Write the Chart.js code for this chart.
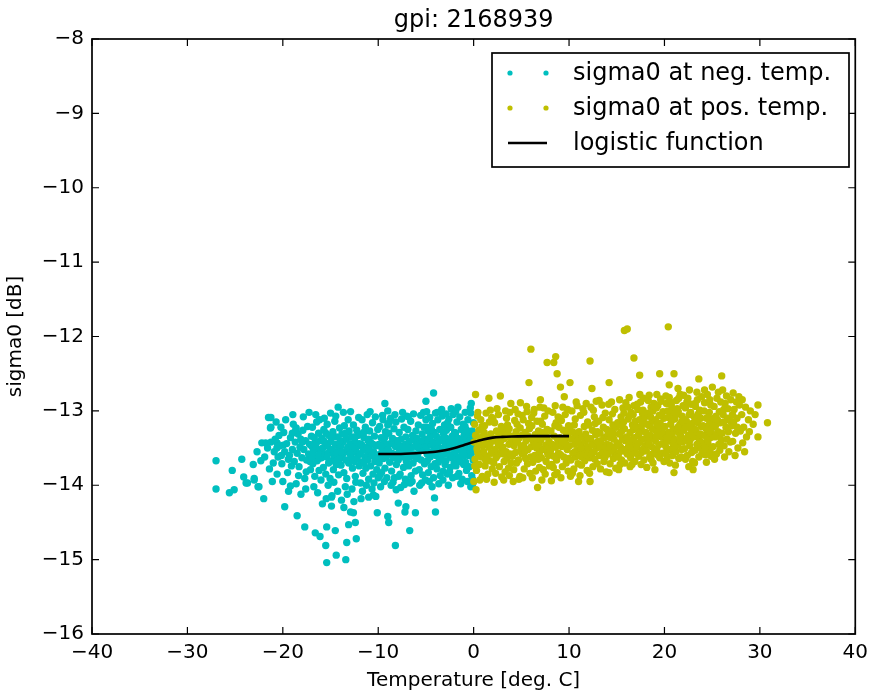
<!DOCTYPE html>
<html>
<head>
<meta charset="utf-8">
<script src="https://cdn.jsdelivr.net/npm/chart.js@4"></script>
<style>
  html, body { margin: 0; padding: 0; background: #fff; }
  #wrap { width: 875px; height: 694px; }
</style>
</head>
<body>
<div id="wrap"><canvas id="gpiChart" width="875" height="694"></canvas></div>
<script>
const chartTitle = 'gpi: 2168939';
const xTicks = [-40, -30, -20, -10, 0, 10, 20, 30, 40];
const yTicks = [-16, -15, -14, -13, -12, -11, -10, -9, -8];
const seriesNames = ['sigma0 at neg. temp.', 'sigma0 at pos. temp.', 'logistic function'];

// [temperature, sigma0] for negative temperatures
const negPoints = [
  [-27.0,-13.67],[-27.0,-14.05],[-25.3,-13.80],[-24.3,-13.65],[-25.6,-14.10],[-25.1,-14.06],[-24.1,-13.89],[-23.7,-13.97],
  [-23.0,-13.91],[-22.6,-14.02],[-22.3,-13.67],[-22.0,-14.18],[-21.5,-13.09],[-21.3,-13.23],[-22.2,-13.43],[-23.1,-13.72],
  [-22.7,-13.55],[-21.25,-13.09],[-21.25,-13.22],[-21.8,-13.43],[-21.25,-13.42],[-20.6,-13.43],[-18.6,-13.23],[-19.0,-13.30],
  [-19.2,-14.01],[-21.1,-13.95],[-22.5,-14.02],[-23.85,-13.97],[-23.0,-13.93],
  [-20.8,-13.38],[-20.5,-13.62],[-20.3,-13.47],[-20.1,-13.71],[-19.9,-13.29],[-19.8,-13.55],[-19.6,-13.44],[-19.5,-13.83],
  [-19.3,-13.60],[-19.2,-13.36],[-19.0,-13.52],[-18.9,-13.18],[-18.8,-13.68],[-18.7,-13.42],[-18.5,-13.57],[-18.4,-13.31],
  [-18.3,-13.75],[-18.2,-13.49],[-18.0,-13.63],[-17.9,-13.26],[-17.8,-13.52],[-17.7,-13.91],[-17.6,-13.40],[-17.5,-13.66],
  [-17.4,-13.21],[-17.3,-13.58],[-17.2,-13.45],[-17.1,-13.79],[-17.0,-13.34],[-20.6,-13.85],[-20.0,-13.95],[-19.4,-14.08],
  [-18.6,-13.98],[-18.1,-14.12],[-17.6,-14.05],[-20.9,-13.55],[-20.2,-13.22],[-19.7,-13.12],[-18.95,-13.05],[-17.85,-13.08],
  [-17.25,-13.02],[-20.4,-13.33],[-19.1,-13.74],[-18.35,-13.87],[-17.55,-13.82],[-21.0,-13.70],[-20.7,-13.15],[-19.95,-13.46],
  [-18.65,-13.26],[-17.95,-13.42],[-17.15,-13.68],[-21.6,-13.50],[-21.9,-13.62],[-21.4,-13.78],[-20.15,-13.60],
  [-18.12,-13.38],[-19.42,-13.65],[-20.62,-13.50],
  [-16.95,-13.48],[-16.9,-13.22],[-16.85,-13.71],[-16.8,-13.55],[-16.7,-13.36],[-16.65,-13.88],[-16.6,-13.61],[-16.5,-13.44],
  [-16.45,-13.15],[-16.4,-13.67],[-16.3,-13.52],[-16.25,-13.30],[-16.2,-13.80],[-16.1,-13.58],[-16.05,-13.40],[-16.0,-13.93],
  [-16.55,-13.05],[-16.15,-13.12],[-16.75,-14.02],[-16.35,-14.10],[-16.78,-13.45],[-16.22,-13.64],[-16.98,-13.62],
  [-15.95,-13.63],[-15.9,-13.37],[-15.8,-13.50],[-15.75,-13.76],[-15.7,-13.25],[-15.6,-13.58],[-15.55,-13.43],[-15.5,-13.85],
  [-15.4,-13.62],[-15.35,-13.18],[-15.3,-13.47],[-15.2,-13.70],[-15.15,-13.33],[-15.1,-13.55],[-15.05,-13.91],[-15.0,-13.03],
  [-15.65,-13.10],[-15.25,-14.00],[-15.45,-14.18],[-15.85,-14.25],[-15.72,-13.40],[-15.28,-13.58],[-15.48,-13.30],
  [-14.95,-13.41],[-14.9,-13.67],[-14.8,-13.52],[-14.75,-13.28],[-14.7,-13.79],[-14.6,-13.60],[-14.55,-13.14],[-14.5,-13.45],
  [-14.4,-13.72],[-14.35,-13.35],[-14.3,-13.57],[-14.2,-12.95],[-14.15,-13.86],[-14.1,-13.50],[-14.05,-13.23],[-14.0,-13.64],
  [-14.65,-13.96],[-14.25,-14.08],[-14.45,-13.07],[-14.85,-14.14],[-14.82,-13.35],[-14.28,-13.66],
  [-13.95,-13.48],[-13.9,-13.73],[-13.8,-13.31],[-13.75,-13.59],[-13.7,-13.42],[-13.6,-13.83],[-13.55,-13.20],[-13.5,-13.55],
  [-13.4,-13.66],[-13.35,-13.38],[-13.3,-13.91],[-13.2,-13.49],[-13.15,-13.12],[-13.1,-13.70],[-13.05,-13.27],[-13.0,-13.57],
  [-13.65,-13.02],[-13.45,-14.02],[-13.25,-14.12],[-13.85,-14.20],[-13.88,-13.55],[-13.42,-13.30],[-13.98,-13.40],
  [-12.95,-13.44],[-12.9,-13.01],[-12.85,-13.62],[-12.8,-13.35],[-12.7,-13.77],[-12.65,-13.52],[-12.6,-13.19],[-12.5,-13.68],
  [-12.45,-13.41],[-12.4,-13.88],[-12.3,-13.55],[-12.25,-13.26],[-12.2,-13.63],[-12.1,-13.47],[-12.05,-13.09],[-12.0,-13.74],
  [-12.75,-14.05],[-12.35,-13.96],[-12.55,-14.22],[-12.15,-13.33],[-12.92,-13.58],[-12.48,-13.35],[-12.52,-13.48],
  [-11.95,-13.58],[-11.9,-13.31],[-11.8,-13.69],[-11.75,-13.45],[-11.7,-13.12],[-11.6,-13.84],[-11.55,-13.53],[-11.5,-13.36],
  [-11.4,-13.62],[-11.35,-13.22],[-11.3,-13.77],[-11.2,-13.49],[-11.15,-13.05],[-11.1,-13.66],[-11.05,-13.40],[-11.0,-13.92],
  [-11.65,-14.08],[-11.25,-14.00],[-11.45,-13.28],[-11.85,-13.97],[-11.98,-13.44],[-11.52,-13.70],[-11.02,-13.56],
  [-10.95,-13.51],[-10.9,-13.27],[-10.8,-13.74],[-10.75,-13.43],[-10.7,-13.60],[-10.6,-13.16],[-10.55,-13.85],[-10.5,-13.55],
  [-10.4,-13.34],[-10.35,-13.68],[-10.3,-13.08],[-10.2,-13.47],[-10.15,-13.79],[-10.1,-13.62],[-10.05,-13.25],[-10.0,-13.90],
  [-10.65,-14.05],[-10.45,-13.97],[-10.25,-14.15],[-10.85,-13.01],[-10.98,-13.38],[-10.52,-13.45],
  [-19.8,-14.29],[-18.5,-14.41],[-17.7,-14.56],[-16.6,-14.64],[-16.1,-14.69],[-15.4,-15.04],[-14.4,-14.94],[-13.4,-15.00],
  [-14.5,-14.61],[-13.3,-14.77],[-12.3,-14.72],[-13.1,-14.53],[-12.4,-14.50],[-15.4,-14.56],[-13.6,-14.30],[-12.6,-14.37],
  [-14.9,-14.28],[-10.1,-14.37],[-9.0,-14.42],[-8.9,-14.50],[-8.2,-14.81],[-7.9,-14.24],[-7.1,-14.29],[-7.2,-14.36],
  [-6.1,-14.37],[-6.7,-14.61],[-4.1,-14.17],[-4.0,-14.36],[-4.2,-12.76],[-5.0,-12.87],[-9.3,-12.90],[-9.0,-13.00],
  [-11.8,-14.18],[-11.0,-14.16],[-10.5,-14.13],[-14.9,-14.16],[-15.5,-14.81],[-12.9,-14.36],
  [-9.95,-13.45],[-9.9,-13.70],[-9.85,-13.21],[-9.8,-13.58],[-9.7,-13.36],[-9.65,-13.83],[-9.6,-13.50],[-9.5,-13.12],
  [-9.45,-13.64],[-9.4,-13.41],[-9.3,-13.77],[-9.25,-13.28],[-9.2,-13.55],[-9.1,-13.90],[-9.05,-13.46],[-9.0,-13.19],
  [-9.75,-14.02],[-9.35,-13.95],[-9.55,-13.06],[-9.15,-13.62],[-9.85,-13.87],[-9.72,-13.48],[-9.28,-13.35],
  [-8.95,-13.52],[-8.9,-13.30],[-8.8,-13.69],[-8.75,-13.44],[-8.7,-13.10],[-8.6,-13.81],[-8.55,-13.57],[-8.5,-13.37],
  [-8.4,-13.63],[-8.35,-13.24],[-8.3,-13.90],[-8.2,-13.48],[-8.15,-13.15],[-8.1,-13.72],[-8.05,-13.40],[-8.0,-13.58],
  [-8.65,-14.00],[-8.25,-13.05],[-8.45,-13.96],[-8.85,-13.16],[-8.12,-14.06],[-8.78,-13.58],[-8.32,-13.45],
  [-7.95,-13.43],[-7.9,-13.66],[-7.8,-13.29],[-7.75,-13.54],[-7.7,-13.85],[-7.6,-13.38],[-7.55,-13.11],[-7.5,-13.60],
  [-7.4,-13.47],[-7.35,-13.76],[-7.3,-13.22],[-7.2,-13.53],[-7.15,-13.92],[-7.1,-13.35],[-7.05,-13.68],[-7.0,-13.07],
  [-7.65,-14.03],[-7.25,-13.99],[-7.45,-13.02],[-7.85,-13.88],[-7.12,-13.45],[-7.82,-13.48],[-7.38,-13.62],
  [-6.95,-13.56],[-6.9,-13.25],[-6.8,-13.74],[-6.75,-13.41],[-6.7,-13.62],[-6.6,-13.14],[-6.55,-13.87],[-6.5,-13.49],
  [-6.4,-13.33],[-6.35,-13.70],[-6.3,-13.04],[-6.2,-13.58],[-6.15,-13.40],[-6.1,-13.81],[-6.05,-13.27],[-6.0,-13.64],
  [-6.65,-13.97],[-6.45,-13.95],[-6.25,-14.08],[-6.85,-13.08],[-6.02,-13.48],[-6.88,-13.50],[-6.42,-13.58],
  [-5.95,-13.37],[-5.9,-13.61],[-5.8,-13.19],[-5.75,-13.50],[-5.7,-13.79],[-5.6,-13.44],[-5.55,-13.06],[-5.5,-13.66],
  [-5.4,-13.31],[-5.35,-13.86],[-5.3,-13.53],[-5.2,-13.22],[-5.15,-13.71],[-5.1,-13.45],[-5.05,-13.93],[-5.0,-13.12],
  [-5.65,-14.00],[-5.25,-13.02],[-5.45,-13.97],[-5.85,-13.58],[-5.02,-13.38],[-5.88,-13.47],[-5.42,-13.40],
  [-4.95,-13.48],[-4.9,-13.22],[-4.85,-13.67],[-4.8,-13.40],[-4.75,-13.83],[-4.7,-13.55],[-4.6,-13.09],[-4.55,-13.62],
  [-4.5,-13.33],[-4.45,-13.75],[-4.4,-13.46],[-4.3,-13.17],[-4.25,-13.58],[-4.2,-13.90],[-4.15,-13.29],[-4.1,-13.52],
  [-4.05,-13.71],[-4.0,-13.03],[-4.65,-13.95],[-4.35,-14.02],[-4.92,-13.01],[-4.58,-13.36],[-4.22,-13.42],[-4.78,-13.27],
  [-4.88,-13.58],[-4.42,-13.25],
  [-3.95,-13.60],[-3.9,-13.34],[-3.85,-13.78],[-3.8,-13.46],[-3.75,-13.12],[-3.7,-13.69],[-3.6,-13.51],[-3.55,-13.25],
  [-3.5,-13.87],[-3.45,-13.40],[-3.4,-13.64],[-3.3,-13.07],[-3.25,-13.55],[-3.2,-13.81],[-3.15,-13.31],[-3.1,-13.49],
  [-3.05,-13.19],[-3.0,-13.72],[-3.65,-13.98],[-3.35,-12.98],[-3.82,-13.02],[-3.58,-13.38],[-3.22,-13.93],[-3.12,-13.58],
  [-3.92,-13.52],[-3.48,-13.55],
  [-2.95,-13.44],[-2.9,-13.67],[-2.85,-13.26],[-2.8,-13.53],[-2.75,-13.85],[-2.7,-13.38],[-2.6,-13.11],[-2.55,-13.59],
  [-2.5,-13.47],[-2.45,-13.76],[-2.4,-13.22],[-2.3,-13.63],[-2.25,-13.34],[-2.2,-13.90],[-2.15,-13.05],[-2.1,-13.51],
  [-2.05,-13.70],[-2.0,-13.29],[-2.65,-14.00],[-2.35,-12.97],[-2.88,-13.04],[-2.52,-13.82],[-2.18,-13.42],[-2.72,-13.16],
  [-2.98,-13.36],[-2.42,-13.40],
  [-1.95,-13.56],[-1.9,-13.30],[-1.85,-13.74],[-1.8,-13.43],[-1.75,-13.15],[-1.7,-13.62],[-1.6,-13.37],[-1.55,-13.84],
  [-1.5,-13.49],[-1.45,-13.08],[-1.4,-13.68],[-1.3,-13.25],[-1.25,-13.55],[-1.2,-13.92],[-1.15,-13.40],[-1.1,-13.18],
  [-1.05,-13.72],[-1.0,-13.33],[-1.65,-12.95],[-1.35,-13.98],[-1.88,-13.01],[-1.52,-13.64],[-1.22,-13.46],[-1.78,-13.88],
  [-1.98,-13.44],[-1.42,-13.52],
  [-0.95,-13.47],[-0.9,-13.21],[-0.85,-13.69],[-0.8,-13.38],[-0.75,-13.80],[-0.7,-13.52],[-0.6,-13.12],[-0.55,-13.60],
  [-0.5,-13.31],[-0.45,-13.75],[-0.4,-13.44],[-0.3,-13.03],[-0.25,-13.58],[-0.2,-13.87],[-0.15,-13.27],[-0.1,-13.50],
  [-0.05,-13.66],[-0.02,-13.16],[-0.65,-13.95],[-0.35,-12.96],[-0.88,-13.02],[-0.12,-13.92],[-0.48,-13.40],[-0.72,-13.26],
  [-0.08,-13.36],[-0.3,-14.02],[-0.1,-13.98],[-0.25,-12.90],[-0.98,-13.60],[-0.42,-13.52]
];

// [temperature, sigma0] for positive temperatures
const posPoints = [
  [0.05,-13.42],[0.1,-13.18],[0.15,-13.65],[0.2,-13.33],[0.3,-13.80],[0.35,-13.51],[0.4,-13.07],[0.5,-13.58],
  [0.55,-13.26],[0.6,-13.72],[0.7,-13.40],[0.75,-13.12],[0.8,-13.62],[0.85,-13.35],[0.9,-13.88],[0.95,-13.47],
  [0.02,-13.95],[0.2,-12.78],[0.45,-13.02],[0.65,-13.93],[0.25,-14.06],[0.12,-13.74],[0.58,-13.45],[0.88,-13.21],
  [0.42,-13.55],
  [1.05,-13.55],[1.1,-13.29],[1.2,-13.74],[1.25,-13.43],[1.3,-13.03],[1.4,-13.61],[1.45,-13.36],[1.5,-13.85],
  [1.6,-13.49],[1.65,-13.15],[1.7,-13.67],[1.8,-13.31],[1.85,-13.57],[1.9,-13.09],[1.95,-13.78],[1.6,-12.83],
  [1.35,-13.92],[1.75,-12.99],[1.15,-13.20],[1.55,-13.44],[1.98,-13.40],[1.25,-13.66],[1.02,-13.38],[1.72,-13.45],
  [2.05,-13.38],[2.1,-13.70],[2.2,-13.16],[2.25,-13.52],[2.3,-13.84],[2.4,-13.27],[2.5,-13.60],[2.55,-13.44],
  [2.6,-13.05],[2.7,-13.75],[2.75,-13.33],[2.8,-12.80],[2.85,-13.56],[2.9,-13.21],[2.95,-13.89],[2.15,-13.96],
  [2.45,-12.97],[2.65,-13.47],[2.35,-13.63],[2.88,-13.40],[2.02,-13.11],[2.42,-13.36],
  [3.05,-13.49],[3.1,-13.24],[3.2,-13.68],[3.25,-13.37],[3.3,-13.82],[3.4,-13.55],[3.45,-13.10],[3.5,-13.63],
  [3.6,-13.31],[3.65,-13.77],[3.7,-13.45],[3.8,-13.02],[3.85,-13.58],[3.9,-12.90],[3.95,-13.39],[3.15,-13.93],
  [3.55,-13.19],[3.75,-13.87],[3.35,-13.00],[3.92,-13.70],[3.02,-13.30],[3.12,-13.58],[3.72,-13.24],
  [4.05,-13.61],[4.1,-13.34],[4.2,-13.79],[4.25,-13.47],[4.3,-13.13],[4.4,-13.56],[4.45,-13.28],[4.5,-13.70],
  [4.6,-13.42],[4.65,-13.04],[4.7,-13.66],[4.8,-13.36],[4.85,-13.88],[4.9,-12.89],[4.95,-13.52],[4.15,-13.95],
  [4.55,-13.18],[4.75,-13.92],[4.35,-12.98],[4.88,-13.23],[4.02,-13.44],[4.42,-13.40],
  [5.05,-13.33],[5.1,-13.58],[5.2,-13.12],[5.25,-13.46],[5.3,-13.78],[5.4,-13.29],[5.45,-13.64],[5.5,-13.40],
  [5.6,-13.01],[5.65,-13.71],[5.7,-13.52],[5.8,-12.62],[5.85,-13.24],[5.9,-13.84],[5.95,-13.37],[5.15,-13.90],
  [5.55,-12.94],[5.75,-13.17],[5.35,-13.55],[5.98,-13.62],[5.08,-13.06],[5.02,-13.48],[5.72,-13.34],
  [6.0,-12.17],[6.05,-13.48],[6.1,-13.20],[6.2,-13.69],[6.25,-13.41],[6.3,-13.03],[6.4,-13.60],[6.45,-13.32],
  [6.5,-13.81],[6.6,-13.50],[6.65,-13.14],[6.7,-14.03],[6.75,-13.65],[6.8,-13.27],[6.85,-13.44],[6.9,-13.76],
  [6.95,-12.95],[6.15,-13.90],[6.55,-13.37],[6.35,-12.98],[6.88,-13.57],[6.08,-13.09],[6.42,-13.46],
  [7.0,-12.85],[7.05,-13.39],[7.1,-13.63],[7.2,-13.18],[7.25,-13.52],[7.3,-13.79],[7.4,-13.30],[7.45,-13.07],
  [7.5,-13.85],[7.55,-13.46],[7.6,-13.68],[7.7,-12.35],[7.7,-13.25],[7.75,-13.57],[7.8,-13.00],[7.9,-13.41],
  [7.95,-13.74],[7.15,-13.93],[7.35,-12.96],[7.65,-13.35],[7.85,-13.60],[7.02,-13.14],[7.12,-13.29],[7.82,-13.50],
  [8.05,-13.54],[8.1,-13.27],[8.2,-13.72],[8.25,-13.45],[8.3,-13.02],[8.4,-13.61],[8.4,-12.35],[8.45,-13.34],
  [8.5,-13.86],[8.6,-13.49],[8.6,-12.27],[8.65,-13.16],[8.7,-13.66],[8.75,-12.50],[8.75,-13.83],[8.8,-13.38],
  [8.85,-13.08],[8.9,-13.57],[8.95,-13.22],[8.15,-13.94],[8.55,-12.93],[8.35,-13.76],[8.92,-13.43],[8.52,-13.20],
  [9.05,-13.36],[9.1,-12.68],[9.1,-13.59],[9.2,-13.13],[9.25,-13.48],[9.3,-13.75],[9.4,-13.26],[9.45,-13.62],
  [9.5,-12.81],[9.55,-13.40],[9.6,-13.05],[9.7,-13.70],[9.75,-13.33],[9.8,-13.52],[9.85,-12.98],[9.9,-13.81],
  [9.95,-13.20],[9.15,-13.90],[9.65,-13.44],[9.35,-12.95],[9.92,-13.64],[9.02,-13.10],[9.22,-13.42],[9.92,-13.30],
  [10.1,-12.62],[10.05,-13.47],[10.1,-13.23],[10.2,-13.66],[10.25,-13.38],[10.3,-13.00],[10.4,-13.57],[10.45,-13.29],
  [10.5,-13.78],[10.6,-13.45],[10.65,-13.11],[10.7,-13.62],[10.8,-13.34],[10.85,-12.93],[10.9,-13.53],[10.95,-13.71],
  [10.15,-13.88],[10.55,-13.19],[10.75,-12.88],[10.35,-13.84],[11.0,-13.95],[10.92,-13.40],[10.62,-13.55],
  [11.05,-13.28],[11.1,-13.60],[11.2,-13.06],[11.25,-13.44],[11.3,-13.73],[11.4,-13.35],[11.45,-12.97],[11.5,-13.55],
  [11.6,-13.21],[11.65,-13.67],[11.7,-13.41],[11.8,-12.90],[11.85,-13.49],[11.9,-13.80],[11.95,-13.15],[11.15,-13.87],
  [11.55,-13.02],[11.75,-13.31],[11.35,-13.62],[11.98,-13.38],[11.22,-13.50],[11.92,-13.60],
  [12.2,-12.33],[12.4,-12.70],[12.2,-13.95],[12.05,-13.52],[12.1,-13.19],[12.2,-13.63],[12.25,-13.37],[12.3,-12.95],
  [12.4,-13.58],[12.45,-13.26],[12.5,-13.75],[12.6,-13.43],[12.65,-13.08],[12.7,-13.65],[12.8,-13.32],[12.85,-12.87],
  [12.9,-13.50],[12.95,-13.71],[12.15,-13.84],[12.55,-12.99],[12.75,-13.17],[12.35,-13.46],[12.98,-13.28],[12.62,-13.55],
  [13.05,-13.41],[13.1,-13.14],[13.2,-13.60],[13.25,-13.30],[13.3,-13.78],[13.4,-13.47],[13.45,-12.92],[13.5,-13.56],
  [13.6,-13.22],[13.65,-13.68],[13.7,-13.36],[13.8,-13.03],[13.85,-13.51],[13.9,-13.82],[13.95,-13.25],[13.15,-12.86],
  [13.55,-13.09],[13.75,-13.63],[13.35,-13.40],[13.98,-13.45],[13.22,-13.48],[13.92,-13.35],
  [14.2,-12.62],[14.2,-13.83],[14.05,-13.33],[14.1,-13.58],[14.2,-13.12],[14.25,-13.46],[14.3,-13.71],[14.4,-13.27],
  [14.45,-12.88],[14.5,-13.53],[14.6,-13.19],[14.65,-13.64],[14.7,-13.38],[14.8,-12.98],[14.85,-13.48],[14.9,-13.77],
  [14.95,-13.22],[14.15,-12.91],[14.55,-13.04],[14.75,-13.56],[14.35,-13.36],[14.98,-13.60],[14.62,-13.30],
  [15.2,-13.79],[15.05,-13.43],[15.1,-13.16],[15.2,-13.57],[15.25,-13.31],[15.3,-12.85],[15.4,-13.49],[15.45,-13.08],
  [15.5,-13.66],[15.6,-13.37],[15.65,-12.96],[15.7,-13.54],[15.8,-11.92],[15.8,-13.24],[15.85,-13.70],[15.9,-13.40],
  [15.95,-12.89],[15.15,-13.62],[15.55,-13.20],[15.75,-13.03],[15.35,-13.72],[15.92,-13.52],[15.5,-13.28],[15.22,-13.45],
  [15.72,-13.15],
  [16.1,-11.90],[16.4,-13.75],[16.05,-13.35],[16.1,-13.58],[16.2,-13.11],[16.25,-13.47],[16.3,-12.82],[16.4,-13.29],
  [16.45,-13.63],[16.5,-13.02],[16.6,-13.41],[16.65,-13.19],[16.7,-13.55],[16.8,-12.29],[16.8,-12.93],[16.85,-13.36],
  [16.9,-13.68],[16.95,-13.14],[16.15,-12.95],[16.55,-13.50],[16.75,-13.25],[16.35,-13.07],[16.98,-13.44],[16.6,-13.72],
  [16.22,-13.38],[16.72,-13.05],
  [17.4,-12.52],[17.8,-12.83],[17.05,-13.22],[17.1,-13.49],[17.2,-12.98],[17.25,-13.33],[17.3,-13.61],[17.4,-13.12],
  [17.45,-13.42],[17.5,-12.88],[17.6,-13.56],[17.65,-13.27],[17.7,-13.04],[17.8,-13.38],[17.85,-13.66],[17.9,-13.17],
  [17.95,-13.47],[17.15,-12.91],[17.55,-13.72],[17.75,-12.99],[17.35,-13.30],[17.02,-13.57],[17.92,-13.09],[17.6,-13.20],
  [17.22,-13.44],[17.72,-13.52],[17.42,-12.78],
  [18.05,-13.29],[18.1,-13.54],[18.2,-13.03],[18.25,-13.41],[18.3,-12.86],[18.4,-13.20],[18.45,-13.62],[18.5,-13.33],
  [18.6,-12.95],[18.65,-13.48],[18.7,-13.14],[18.8,-13.70],[18.85,-13.37],[18.9,-12.90],[18.95,-13.25],[18.15,-13.76],
  [18.55,-13.08],[18.75,-13.58],[18.35,-13.44],[18.98,-13.52],[18.4,-12.79],[18.8,-13.00],[18.2,-13.18],[18.6,-13.65],
  [18.22,-13.32],[18.72,-13.24],
  [19.0,-13.79],[19.2,-12.78],[19.5,-12.50],[19.05,-13.40],[19.1,-13.12],[19.2,-13.53],[19.25,-13.28],[19.3,-12.93],
  [19.4,-13.46],[19.45,-13.06],[19.5,-13.63],[19.6,-13.22],[19.65,-12.87],[19.7,-13.35],[19.8,-13.57],[19.85,-13.01],
  [19.9,-13.30],[19.95,-13.68],[19.15,-12.96],[19.55,-13.17],[19.75,-13.44],[19.35,-13.60],[19.92,-13.10],[19.6,-12.84],
  [19.1,-13.34],[19.22,-13.18],[19.72,-13.05],
  [20.4,-11.87],[20.5,-12.65],[21.0,-12.50],[21.0,-13.83],[20.05,-13.21],[20.1,-13.47],[20.2,-12.90],[20.25,-13.36],
  [20.3,-13.62],[20.4,-13.09],[20.45,-13.29],[20.5,-12.82],[20.6,-13.52],[20.65,-13.18],[20.7,-13.41],[20.8,-12.97],
  [20.85,-13.60],[20.9,-13.25],[20.95,-13.04],[20.15,-12.80],[20.55,-13.70],[20.75,-13.13],[20.35,-13.00],[20.92,-13.45],
  [20.2,-13.55],[20.6,-12.88],[20.8,-13.32],[20.22,-13.40],[20.72,-12.92],
  [21.05,-13.38],[21.1,-13.11],[21.2,-13.55],[21.25,-12.86],[21.3,-13.27],[21.4,-13.46],[21.45,-13.01],[21.5,-13.64],
  [21.6,-13.19],[21.65,-12.78],[21.7,-13.34],[21.8,-13.52],[21.85,-13.07],[21.9,-13.42],[21.95,-12.93],[21.15,-13.73],
  [21.55,-13.30],[21.75,-13.62],[21.35,-12.97],[21.92,-13.20],[21.5,-12.83],[21.1,-13.48],[21.8,-13.15],[21.4,-13.22],
  [21.6,-13.40],[21.22,-13.05],[21.72,-13.25],[21.42,-12.70],
  [22.05,-13.26],[22.1,-13.51],[22.2,-12.96],[22.25,-13.40],[22.3,-13.14],[22.4,-13.60],[22.45,-12.83],[22.5,-13.33],
  [22.6,-13.05],[22.65,-13.47],[22.7,-13.22],[22.8,-12.91],[22.85,-13.56],[22.9,-13.30],[22.95,-13.68],[22.15,-13.12],
  [22.55,-13.75],[22.75,-13.02],[22.35,-12.88],[22.92,-13.17],[22.4,-13.36],[22.0,-12.79],[22.6,-13.42],[22.8,-13.25],
  [22.2,-13.65],[22.22,-13.22],[22.72,-13.38],[22.62,-12.72],
  [23.0,-13.79],[23.6,-12.57],[23.05,-13.35],[23.1,-13.08],[23.2,-13.53],[23.25,-12.94],[23.3,-13.28],[23.4,-13.45],
  [23.45,-12.85],[23.5,-13.16],[23.6,-13.62],[23.65,-13.38],[23.7,-12.99],[23.8,-13.50],[23.85,-13.21],[23.9,-12.81],
  [23.95,-13.43],[23.15,-13.70],[23.55,-13.04],[23.75,-13.31],[23.35,-13.12],[23.92,-13.58],[23.4,-12.75],[23.8,-13.10],
  [23.2,-13.25],[23.22,-12.90],[23.72,-13.42],
  [24.4,-13.69],[24.05,-13.20],[24.1,-13.46],[24.2,-12.89],[24.25,-13.33],[24.3,-13.59],[24.4,-13.10],[24.45,-13.40],
  [24.5,-12.78],[24.6,-13.27],[24.65,-13.52],[24.7,-13.02],[24.8,-13.36],[24.85,-12.92],[24.9,-13.61],[24.95,-13.15],
  [24.15,-13.00],[24.55,-13.43],[24.75,-12.85],[24.35,-13.24],[24.92,-13.30],[24.2,-12.72],[24.6,-13.08],[24.8,-13.55],
  [24.22,-13.50],[24.72,-13.18],
  [25.05,-13.22],[25.1,-13.48],[25.2,-12.94],[25.3,-13.35],[25.4,-13.07],[25.45,-13.58],[25.5,-12.83],[25.6,-13.28],
  [25.7,-13.45],[25.75,-13.01],[25.85,-13.16],[25.9,-12.88],[25.95,-13.39],[25.25,-13.65],[25.65,-12.75],[25.35,-13.20],
  [25.8,-13.53],[25.55,-13.12],[26.0,-12.53],[25.22,-13.10],[25.72,-13.32],[25.02,-12.68],
  [26.1,-12.72],[26.05,-13.30],[26.15,-13.05],[26.25,-13.47],[26.35,-12.90],[26.45,-13.22],[26.55,-13.38],[26.65,-12.97],
  [26.75,-13.55],[26.85,-13.13],[26.95,-12.85],[26.3,-13.62],[26.7,-13.28],[26.5,-12.80],[26.9,-13.42],[26.2,-13.15],
  [26.22,-12.98],[26.62,-13.10],
  [27.2,-12.76],[27.05,-13.20],[27.15,-13.41],[27.3,-12.98],[27.45,-13.30],[27.6,-13.10],[27.7,-13.50],[27.85,-12.92],
  [27.8,-12.81],[27.95,-13.27],[27.4,-13.60],[27.55,-12.88],[27.25,-13.15],[27.12,-13.05],[27.62,-13.22],
  [28.2,-13.43],[28.1,-13.05],[28.3,-13.22],[28.5,-12.95],[28.6,-13.35],[28.8,-13.12],[28.4,-13.55],[29.0,-13.00],
  [28.9,-13.28],[29.3,-13.18],[29.8,-12.92],[29.8,-13.35],[30.8,-13.16],[29.5,-13.05],[28.15,-12.85]
];

// fitted logistic curve
const fitPoints = [
  [-10,-13.58],[-8,-13.58],[-6,-13.57],[-5,-13.56],[-4,-13.55],[-3,-13.53],[-2,-13.50],[-1,-13.46],
  [0,-13.42],[1,-13.385],[2,-13.36],[3,-13.35],[4,-13.345],[6,-13.34],[8,-13.34],[10,-13.34]
];

const negColor = '#00bfbf';
const posColor = '#bfbf00';
const FONT = "'DejaVu Sans', sans-serif";

// frame, inward ticks on all four sides, title and legend box
const framePlugin = {
  id: 'frame',
  afterDraw(chart) {
    const { ctx, chartArea: a, scales } = chart;
    ctx.save();
    ctx.strokeStyle = '#000';
    ctx.lineWidth = 1.7;
    ctx.strokeRect(a.left, a.top, a.right - a.left, a.bottom - a.top);
    ctx.lineWidth = 1.2;
    ctx.beginPath();
    const tl = 7;
    xTicks.forEach(v => {
      const x = scales.x.getPixelForValue(v);
      ctx.moveTo(x, a.bottom); ctx.lineTo(x, a.bottom - tl);
      ctx.moveTo(x, a.top); ctx.lineTo(x, a.top + tl);
    });
    yTicks.forEach(v => {
      const y = scales.y.getPixelForValue(v);
      ctx.moveTo(a.left, y); ctx.lineTo(a.left + tl, y);
      ctx.moveTo(a.right, y); ctx.lineTo(a.right - tl, y);
    });
    ctx.stroke();

    ctx.fillStyle = '#000';
    ctx.font = '24px ' + FONT;
    ctx.textAlign = 'center';
    ctx.textBaseline = 'middle';
    ctx.fillText(chartTitle, (a.left + a.right) / 2, 21);

    // legend
    const bx = 492, by = 53, bw = 357, bh = 114;
    ctx.fillStyle = '#fff';
    ctx.fillRect(bx, by, bw, bh);
    ctx.lineWidth = 1.7;
    ctx.strokeRect(bx, by, bw, bh);
    const rows = [73, 108, 143];
    const colors = [negColor, posColor];
    ctx.textAlign = 'left';
    ctx.font = '24px ' + FONT;
    rows.forEach((ry, i) => {
      if (i < 2) {
        ctx.fillStyle = colors[i];
        [510, 546].forEach(px => {
          ctx.beginPath(); ctx.arc(px, ry, 2.6, 0, Math.PI * 2); ctx.fill();
        });
      } else {
        ctx.strokeStyle = '#000';
        ctx.lineWidth = 2.6;
        ctx.beginPath(); ctx.moveTo(508, ry); ctx.lineTo(547, ry); ctx.stroke();
      }
      ctx.fillStyle = '#000';
      ctx.fillText(seriesNames[i], 573, ry + 1);
    });
    ctx.restore();
  }
};

const minusLabel = v => (v < 0 ? '\u2212' + Math.abs(v) : String(v));

new Chart(document.getElementById('gpiChart'), {
  type: 'scatter',
  data: {
    datasets: [
      {
        type: 'line',
        label: seriesNames[2],
        data: fitPoints,
        borderColor: '#000',
        borderWidth: 2.6,
        pointRadius: 0,
        fill: false,
        cubicInterpolationMode: 'monotone'
      },
      {
        label: seriesNames[1],
        data: posPoints,
        backgroundColor: posColor,
        borderWidth: 0,
        pointRadius: 3.7
      },
      {
        label: seriesNames[0],
        data: negPoints,
        backgroundColor: negColor,
        borderWidth: 0,
        pointRadius: 3.7
      }
    ]
  },
  options: {
    responsive: false,
    animation: false,
    events: [],
    layout: { padding: { left: 0, right: 13, top: 39, bottom: 0 } },
    plugins: {
      legend: { display: false },
      tooltip: { enabled: false }
    },
    scales: {
      x: {
        type: 'linear',
        min: -40,
        max: 40,
        afterBuildTicks: s => { s.ticks = xTicks.map(v => ({ value: v })); },
        afterFit: s => { s.height = 60; },
        grid: { display: false, drawTicks: false },
        border: { display: false },
        ticks: { color: '#000', font: { family: FONT, size: 20 }, padding: 7, callback: minusLabel },
        title: { display: true, text: 'Temperature [deg. C]', color: '#000', font: { family: FONT, size: 20 }, padding: { top: 0, bottom: 1 } }
      },
      y: {
        type: 'linear',
        min: -16,
        max: -8,
        afterBuildTicks: s => { s.ticks = yTicks.map(v => ({ value: v })); },
        afterFit: s => { s.width = 92; },
        grid: { display: false, drawTicks: false },
        border: { display: false },
        ticks: { color: '#000', font: { family: FONT, size: 20 }, padding: 8, callback: minusLabel },
        title: { display: true, text: 'sigma0 [dB]', color: '#000', font: { family: FONT, size: 20 }, padding: { top: 4, bottom: 0 } }
      }
    }
  },
  plugins: [framePlugin]
});
</script>
</body>
</html>
